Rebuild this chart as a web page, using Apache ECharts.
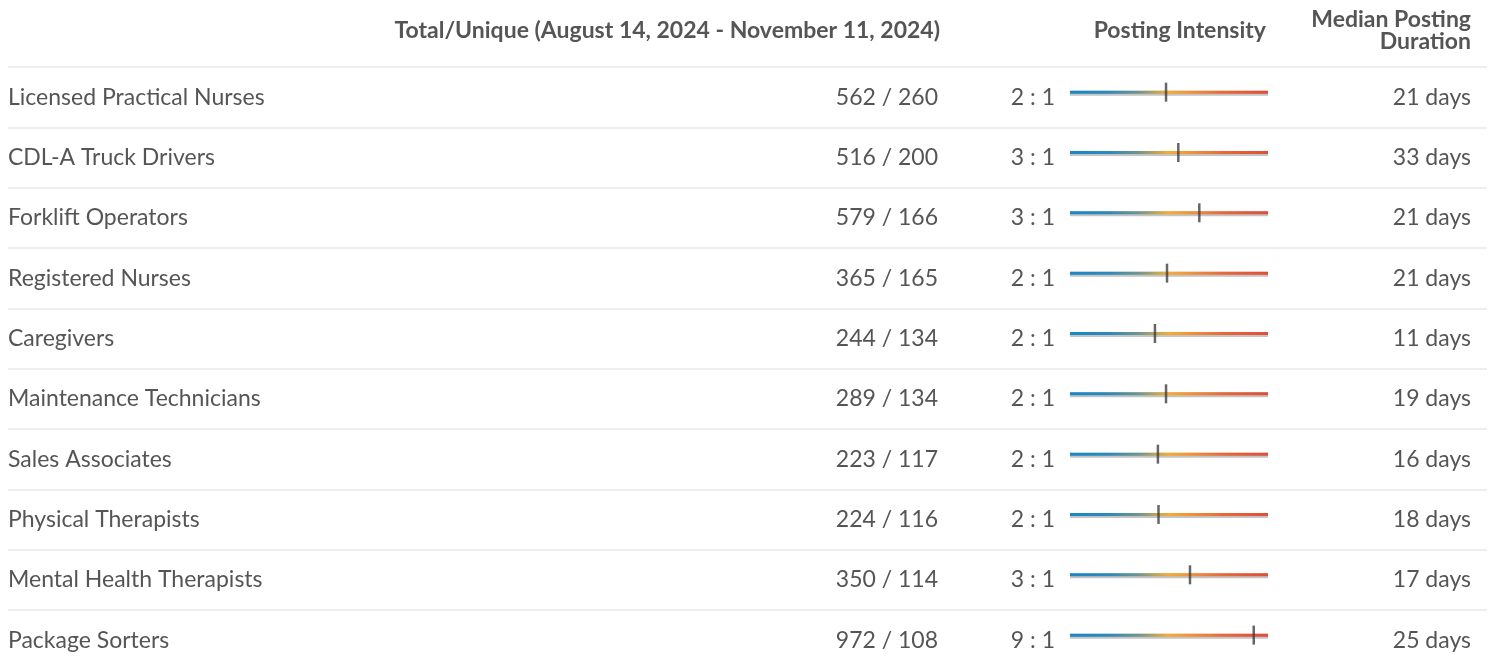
<!DOCTYPE html>
<html><head><meta charset="utf-8">
<script src="https://cdn.jsdelivr.net/npm/echarts@6/dist/echarts.min.js"></script>
<style>html,body{margin:0;padding:0;background:#fff;overflow:hidden}#c{width:1497px;height:666px}</style>
</head><body><div id="c"></div>
<script>
const occupations = ['Licensed Practical Nurses','CDL-A Truck Drivers','Forklift Operators','Registered Nurses','Caregivers','Maintenance Technicians','Sales Associates','Physical Therapists','Mental Health Therapists','Package Sorters'];
const totals = [562,516,579,365,244,289,223,224,350,972];
const uniques = [260,200,166,165,134,134,117,116,114,108];
const ratios = [2,3,3,2,2,2,2,2,3,9];
const intensity = [48.5,54.7,65.3,49.0,42.9,48.5,44.4,44.7,60.6,92.8];
const durations = [21,33,21,21,11,19,16,18,17,25];
const headerTotal = 'Total/Unique (August 14, 2024 - November 11, 2024)';
const headerIntensity = 'Posting Intensity';
const headerDuration = ['Median Posting', 'Duration'];
const intensityMax = 100;

const FONT = 'Lato';
const TXT = '#555555';
const FS = 23;
const totalLabels = totals.map((t,i)=>t + ' / ' + uniques[i]);
const ratioLabels = ratios.map(r=>r + ' : 1');
const durationLabels = durations.map(d=>d + ' days');
const track = occupations.map(()=>intensityMax);

const chart = echarts.init(document.getElementById('c'), null, {renderer:'canvas'});
const hdrStyle = {fontFamily:FONT, fontWeight:'bold', fontSize:FS, color:TXT, lineHeight:22};
const rowH = 60.33 * 10;
function textAxis(data, pos, offset){
  return {type:'category', gridIndex:0, inverse:true, data:data, position:pos, offset:offset,
    axisLine:{show:false}, axisTick:{show:false},
    axisLabel:{inside:true, margin:0, fontFamily:FONT, fontSize:FS, color:TXT, padding:[6,0,0,0]},
    splitLine:{show:false}};
}
const yA0 = textAxis(occupations,'left',0);
yA0.splitLine = {show:true, lineStyle:{color:'#eeeeee', width:2}};
chart.setOption({
  animation:false,
  title:[
    {text:headerTotal, right:557, top:20, padding:0, textStyle:hdrStyle},
    {text:headerIntensity, right:231, top:20, padding:0, textStyle:hdrStyle},
    {text:headerDuration[0], right:26, top:9, padding:0, textStyle:hdrStyle},
    {text:headerDuration[1], right:26, top:31, padding:0, textStyle:hdrStyle}
  ],
  grid:[
    {left:8, width:1479, top:67, height:rowH, outerBoundsMode:'none'},
    {left:1070, width:198, top:62, height:rowH, outerBoundsMode:'none'}
  ],
  xAxis:[
    {type:'value', gridIndex:0, show:false, min:0, max:1},
    {type:'value', gridIndex:1, show:false, min:0, max:intensityMax}
  ],
  yAxis:[
    yA0,
    textAxis(totalLabels,'right',-549),
    textAxis(ratioLabels,'right',-432),
    textAxis(durationLabels,'right',-16),
    {type:'category', gridIndex:1, inverse:true, data:occupations, show:false}
  ],
  series:[
    {type:'bar', xAxisIndex:1, yAxisIndex:4, data:track, barWidth:5, itemStyle:{color:'#c4c4c4'}, silent:true},
    {type:'bar', xAxisIndex:1, yAxisIndex:4, data:track, barWidth:3, barGap:'-100%',
      itemStyle:{color:new echarts.graphic.LinearGradient(0,0,1,0,[
        {offset:0, color:'#1787c9'},
        {offset:0.2, color:'#2f89b8'},
        {offset:0.35, color:'#72968a'},
        {offset:0.44, color:'#c2a651'},
        {offset:0.5, color:'#f6ab35'},
        {offset:0.62, color:'#f18f3c'},
        {offset:0.78, color:'#e7673b'},
        {offset:1, color:'#e04d37'}
      ])}, silent:true},
    {type:'scatter', xAxisIndex:1, yAxisIndex:4, data:intensity.map((v,i)=>[v, occupations[i]]),
      symbol:'rect', symbolSize:[2.5,19], itemStyle:{color:'#404040'}, z:5, silent:true}
  ]
});
</script></body></html>
